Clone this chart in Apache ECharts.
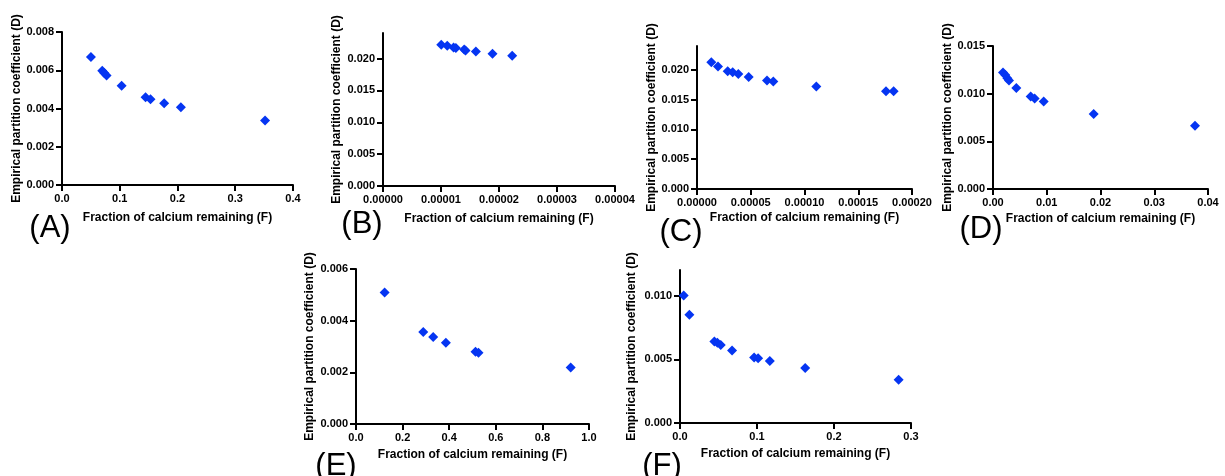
<!DOCTYPE html>
<html>
<head>
    <meta charset="UTF-8">
    <title>Empirical partition coefficient vs fraction of calcium remaining</title>
    <script src="https://cdn.jsdelivr.net/npm/echarts@6/dist/echarts.min.js"></script>
    <style>
        html, body {
            margin: 0;
            padding: 0;
            background: #fff;
        }

        #chart {
            width: 1225px;
            height: 476px;
        }
    </style>
</head>
<body>
<div id="chart"></div>
<script>
    // panel A
    const aX = [0.0501, 0.0697, 0.0732, 0.0772, 0.1032, 0.1447, 0.1533, 0.1769, 0.2058, 0.3516];
    const aY = [0.00669, 0.00597, 0.00585, 0.00573, 0.00519, 0.00459, 0.00449, 0.00428, 0.00407, 0.00337];
    const aXTicks = [0, 0.1, 0.2, 0.3, 0.4];
    const aYTicks = [0, 0.002, 0.004, 0.006, 0.008];

    // panel B
    const bX = [1.004e-5, 1.108e-5, 1.217e-5, 1.257e-5, 1.400e-5, 1.423e-5, 1.601e-5, 1.888e-5, 2.227e-5];
    const bY = [0.02215, 0.0220, 0.02173, 0.02163, 0.02142, 0.02126, 0.0211, 0.02073, 0.02042];
    const bXTicks = [0, 0.00001, 0.00002, 0.00003, 0.00004];
    const bYTicks = [0, 0.005, 0.010, 0.015, 0.020];

    // panel C
    const cX = [1.333e-5, 1.953e-5, 2.853e-5, 3.318e-5, 3.845e-5, 4.806e-5, 6.512e-5, 7.101e-5, 1.110e-4, 1.758e-4, 1.829e-4];
    const cY = [0.02128, 0.02056, 0.01978, 0.01961, 0.01928, 0.01878, 0.01822, 0.01806, 0.01722, 0.01639, 0.01639];
    const cXTicks = [0, 0.00005, 0.00010, 0.00015, 0.00020];
    const cYTicks = [0, 0.005, 0.010, 0.015, 0.020];

    // panel D
    const dX = [0.00186, 0.00229, 0.00267, 0.00298, 0.00434, 0.00701, 0.00775, 0.00943, 0.01873, 0.03758];
    const dY = [0.01221, 0.01197, 0.01162, 0.01137, 0.01060, 0.00970, 0.00949, 0.00917, 0.00788, 0.00663];
    const dXTicks = [0, 0.01, 0.02, 0.03, 0.04];
    const dYTicks = [0, 0.005, 0.010, 0.015];

    // panel E
    const eX = [0.1229, 0.2886, 0.3314, 0.3857, 0.5129, 0.5257, 0.9214];
    const eY = [0.005088, 0.003559, 0.003366, 0.003148, 0.002801, 0.002762, 0.002184];
    const eXTicks = [0, 0.2, 0.4, 0.6, 0.8, 1.0];
    const eYTicks = [0, 0.002, 0.004, 0.006];

    // panel F
    const fX = [0.00477, 0.01214, 0.04465, 0.04855, 0.05289, 0.06763, 0.09624, 0.10145, 0.11662, 0.16257, 0.28396];
    const fY = [0.0100, 0.00849, 0.00640, 0.00629, 0.00611, 0.00569, 0.00514, 0.00507, 0.00486, 0.00431, 0.00339];
    const fXTicks = [0, 0.1, 0.2, 0.3];
    const fYTicks = [0, 0.005, 0.010];

    const xTitle = 'Fraction of calcium remaining (F)';
    const yTitle = 'Empirical partition coefficient (D)';
    const panelLetters = ['(A)', '(B)', '(C)', '(D)', '(E)', '(F)'];

    const FONT = '"Liberation Sans", Arial, sans-serif';
    const INK = '#000';
    const BLUE = '#0535f2';

    // layout of each panel: grid box, axis max, label decimals, title gaps, letter position
    const panels = [
        {x: aX, y: aY, xt: aXTicks, yt: aYTicks, xmax: 0.4, ymax: 0.008, xd: 1, yd: 3,
            grid: [62, 32, 231, 153], yGap: 37, xGap: 27, letter: [50, 228]},
        {x: bX, y: bY, xt: bXTicks, yt: bYTicks, xmax: 0.00004, ymax: 0.024, xd: 5, yd: 3,
            grid: [383, 33, 232, 153], yGap: 40, xGap: 27, letter: [362, 224]},
        {x: cX, y: cY, xt: cXTicks, yt: cYTicks, xmax: 0.0002, ymax: 0.024, xd: 5, yd: 3,
            grid: [697, 46, 215, 143], yGap: 35, xGap: 23, letter: [681, 232]},
        {x: dX, y: dY, xt: dXTicks, yt: dYTicks, xmax: 0.04, ymax: 0.015, xd: 2, yd: 3,
            grid: [993, 46, 215, 143], yGap: 35, xGap: 24, letter: [981, 229]},
        {x: eX, y: eY, xt: eXTicks, yt: eYTicks, xmax: 1.0, ymax: 0.006, xd: 1, yd: 3,
            grid: [356, 269, 233, 155], yGap: 40, xGap: 25, letter: [336, 466]},
        {x: fX, y: fY, xt: fXTicks, yt: fYTicks, xmax: 0.3, ymax: 0.012, xd: 1, yd: 3,
            grid: [680, 270, 231, 153], yGap: 42, xGap: 25, letter: [662, 466]}
    ];

    const axisStyle = {
        axisLine: {show: true, onZero: false, lineStyle: {color: INK, width: 2}},
        axisTick: {show: true, inside: false, length: 6, lineStyle: {color: INK, width: 2}},
        splitLine: {show: false}
    };

    const grids = [], xAxes = [], yAxes = [], series = [], graphics = [];

    panels.forEach(function (p, i) {
        grids.push({
            left: p.grid[0], top: p.grid[1], width: p.grid[2], height: p.grid[3],
            containLabel: false
        });
        xAxes.push(Object.assign({
            type: 'value', gridIndex: i, min: 0, max: p.xmax,
            name: xTitle, nameLocation: 'middle', nameGap: p.xGap,
            nameTextStyle: {fontFamily: FONT, fontWeight: 'bold', fontSize: 12, color: INK},
            axisLabel: {
                customValues: p.xt, margin: 8,
                fontFamily: FONT, fontWeight: 'bold', fontSize: 11, color: INK,
                formatter: function (v) { return v.toFixed(p.xd); }
            }
        }, axisStyle, {axisTick: Object.assign({customValues: p.xt}, axisStyle.axisTick)}));
        yAxes.push(Object.assign({
            type: 'value', gridIndex: i, min: 0, max: p.ymax,
            name: yTitle, nameLocation: 'middle', nameGap: p.yGap,
            nameTextStyle: {fontFamily: FONT, fontWeight: 'bold', fontSize: 12, color: INK},
            axisLabel: {
                customValues: p.yt, margin: 8,
                fontFamily: FONT, fontWeight: 'bold', fontSize: 11, color: INK,
                formatter: function (v) { return v.toFixed(p.yd); }
            }
        }, axisStyle, {axisTick: Object.assign({customValues: p.yt}, axisStyle.axisTick)}));
        series.push({
            type: 'scatter', xAxisIndex: i, yAxisIndex: i,
            symbol: 'diamond', symbolSize: [10, 10],
            itemStyle: {color: BLUE, opacity: 1},
            data: p.x.map(function (v, k) { return [v, p.y[k]]; })
        });
        graphics.push({
            type: 'text', x: p.letter[0], y: p.letter[1],
            style: {
                text: panelLetters[i], font: '31px ' + FONT, fill: INK,
                textAlign: 'center', textVerticalAlign: 'middle'
            }
        });
    });

    let chart = echarts.init(document.getElementById('chart'), null, {renderer: 'canvas'});
    chart.setOption({
        animation: false,
        backgroundColor: '#fff',
        grid: grids,
        xAxis: xAxes,
        yAxis: yAxes,
        series: series,
        graphic: graphics
    });
</script>
</body>
</html>
